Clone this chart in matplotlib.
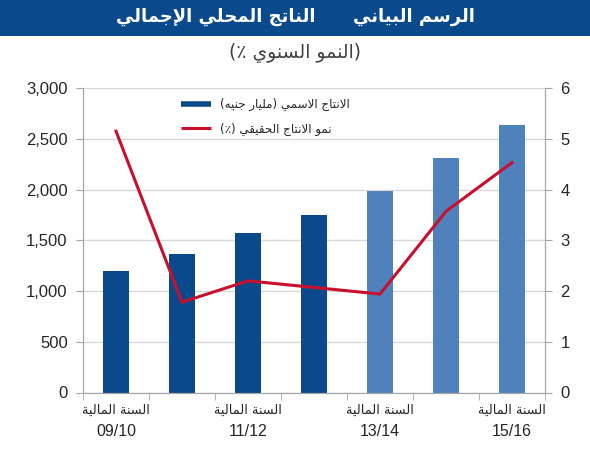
import matplotlib
matplotlib.use('Agg')
import numpy as np
import matplotlib.pyplot as plt
from matplotlib.lines import Line2D
from matplotlib.patches import Rectangle

# ---------------- data ----------------
categories = ['09/10', '10/11', '11/12', '12/13', '13/14', '14/15', '15/16']
nominal_gdp = [1200, 1365, 1570, 1750, 1990, 2315, 2640]      # billion EGP
real_growth = [5.15, 1.78, 2.2, 2.07, 1.94, 3.57, 4.53]       # %
is_forecast = [False, False, False, False, True, True, True]
left_ticks = [0, 500, 1000, 1500, 2000, 2500, 3000]
right_ticks = [0, 1, 2, 3, 4, 5, 6]
labeled_idx = [0, 2, 4, 6]

title_text = 'الرسم البياني      الناتج المحلي الإجمالي'
subtitle_text = '(النمو السنوي ٪)'
bar_label = 'الانتاج الاسمي (مليار جنيه)'
line_label = 'نمو الانتاج الحقيقي (٪)'
year_word = 'السنة المالية'

# ---------------- simple Arabic shaping ----------------
def _dual(s):
    return (chr(s), chr(s + 1), chr(s + 2), chr(s + 3))

def _right(s):
    return (chr(s), chr(s + 1))

FORMS = {
    '\u0621': ('\uFE80',),
    '\u0622': _right(0xFE81), '\u0623': _right(0xFE83), '\u0624': _right(0xFE85),
    '\u0625': _right(0xFE87), '\u0626': _dual(0xFE89), '\u0627': _right(0xFE8D),
    '\u0628': _dual(0xFE8F), '\u0629': _right(0xFE93), '\u062A': _dual(0xFE95),
    '\u062B': _dual(0xFE99), '\u062C': _dual(0xFE9D), '\u062D': _dual(0xFEA1),
    '\u062E': _dual(0xFEA5), '\u062F': _right(0xFEA9), '\u0630': _right(0xFEAB),
    '\u0631': _right(0xFEAD), '\u0632': _right(0xFEAF), '\u0633': _dual(0xFEB1),
    '\u0634': _dual(0xFEB5), '\u0635': _dual(0xFEB9), '\u0636': _dual(0xFEBD),
    '\u0637': _dual(0xFEC1), '\u0638': _dual(0xFEC5), '\u0639': _dual(0xFEC9),
    '\u063A': _dual(0xFECD), '\u0641': _dual(0xFED1), '\u0642': _dual(0xFED5),
    '\u0643': _dual(0xFED9), '\u0644': _dual(0xFEDD), '\u0645': _dual(0xFEE1),
    '\u0646': _dual(0xFEE5), '\u0647': _dual(0xFEE9), '\u0648': _right(0xFEED),
    '\u0649': _right(0xFEEF), '\u064A': _dual(0xFEF1),
}
LAM_ALEF = {'\u0622': _right(0xFEF5), '\u0623': _right(0xFEF7),
            '\u0625': _right(0xFEF9), '\u0627': _right(0xFEFB)}


def ar(text):
    units = []
    i = 0
    while i < len(text):
        c = text[i]
        if c == '\u0644' and i + 1 < len(text) and text[i + 1] in LAM_ALEF:
            units.append(LAM_ALEF[text[i + 1]])
            i += 2
        elif c in FORMS:
            units.append(FORMS[c])
            i += 1
        else:
            units.append(c)
            i += 1
    out = []
    for k, u in enumerate(units):
        if isinstance(u, str):
            out.append(u)
            continue
        prev = units[k - 1] if k > 0 else None
        nxt = units[k + 1] if k + 1 < len(units) else None
        jp = isinstance(prev, tuple) and len(prev) == 4
        jn = len(u) == 4 and isinstance(nxt, tuple) and len(nxt) >= 2
        if len(u) == 1:
            out.append(u[0])
        elif len(u) == 2:
            out.append(u[1] if jp else u[0])
        else:
            if jp and jn:
                out.append(u[3])
            elif jp:
                out.append(u[1])
            elif jn:
                out.append(u[2])
            else:
                out.append(u[0])
    s = ''.join(out)[::-1]
    mirror = {'(': ')', ')': '('}
    return ''.join(mirror.get(ch, ch) for ch in s)


# ---------------- styling ----------------
plt.rcParams['font.family'] = ['Liberation Sans', 'DejaVu Sans']
DARK = '#0a4a8c'
LIGHT = '#4f81bd'
RED = '#c8102e'
GRID = '#d9d9d9'
AXC = '#a6a6a6'
TXT = '#262626'

W, H = 590, 450
fig = plt.figure(figsize=(W / 100, H / 100), dpi=100)
fig.patch.set_facecolor('white')

# title band
fig.patches.append(Rectangle((0, 1 - 36 / H), 1, 36 / H, transform=fig.transFigure,
                             facecolor=DARK, edgecolor='none', zorder=0))
fig.text(0.5, 1 - 17 / H, ar(title_text), color='white', fontsize=13, fontweight='bold',
         ha='center', va='center', family=['DejaVu Sans'])
fig.text(0.5, 1 - 53 / H, ar(subtitle_text), color='#404040', fontsize=13.5,
         ha='center', va='center', family=['DejaVu Sans'])

ax = fig.add_axes([83 / W, 1 - 392.5 / H, (545 - 83) / W, (392.5 - 88) / H])
x = np.arange(len(categories))
colors = [LIGHT if f else DARK for f in is_forecast]
ax.bar(x, nominal_gdp, width=0.4, color=colors, zorder=2)
ax.set_xlim(-0.5, len(categories) - 0.5)
ax.set_ylim(left_ticks[0], left_ticks[-1])
ax.set_yticks(left_ticks)
ax.set_yticklabels([f'{v:,}' for v in left_ticks])
ax.grid(axis='y', color=GRID, linewidth=1, zorder=0)
ax.set_axisbelow(True)

# category labels: year numbers as tick labels, Arabic word above them
ax.set_xticks(labeled_idx)
ax.set_xticklabels([categories[i] for i in labeled_idx], fontsize=11.5, color=TXT)
ax.tick_params(axis='x', which='major', length=0, pad=23)
for i in labeled_idx:
    ax.annotate(ar(year_word), xy=(i, 0), xycoords=('data', 'axes fraction'),
                xytext=(0, -13), textcoords='offset points', ha='center', va='center',
                fontsize=9.3, color=TXT, family=['DejaVu Sans'], annotation_clip=False)
ax.set_xticks(np.arange(-0.5, len(categories), 1), minor=True)
ax.tick_params(axis='x', which='minor', length=5, color=AXC, direction='out')
ax.tick_params(axis='y', length=5, color=AXC, labelsize=12, labelcolor=TXT, pad=6)

ax.spines['top'].set_visible(False)
for side in ['left', 'right', 'bottom']:
    ax.spines[side].set_color(AXC)

ax2 = ax.twinx()
ax2.plot(x, real_growth, color=RED, linewidth=2.2, zorder=3, solid_joinstyle='miter')
ax2.set_ylim(right_ticks[0], right_ticks[-1])
ax2.set_yticks(right_ticks)
ax2.set_yticklabels([str(v) for v in right_ticks])
ax2.tick_params(axis='y', length=5, color=AXC, labelsize=12, labelcolor=TXT, pad=6)
ax2.spines['top'].set_visible(False)
for side in ['left', 'right', 'bottom']:
    ax2.spines[side].set_color(AXC)

handles = [Line2D([0], [0], color=DARK, linewidth=4, solid_capstyle='butt'),
           Line2D([0], [0], color=RED, linewidth=2.2, solid_capstyle='butt')]
leg = ax2.legend(handles, [ar(bar_label), ar(line_label)],
                 loc='upper left', bbox_to_anchor=(175 / W, 1 - 92 / H),
                 bbox_transform=fig.transFigure, frameon=False, borderpad=0,
                 handlelength=2.5, handletextpad=0.75, labelspacing=0.95,
                 prop={'family': ['DejaVu Sans'], 'size': 8.6})
for t in leg.get_texts():
    t.set_color(TXT)

fig.savefig('out.png', dpi=100)
